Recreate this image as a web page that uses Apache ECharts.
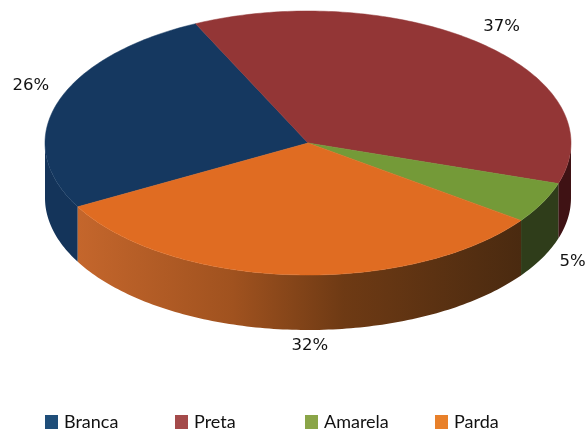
<!DOCTYPE html>
<html>
<head>
<meta charset="utf-8">
<style>
  html, body { margin: 0; padding: 0; background: #fff; }
  #main { width: 587px; height: 429px; }
</style>
<script src="https://cdn.jsdelivr.net/npm/echarts@6/dist/echarts.min.js"></script>
</head>
<body>
<div id="main"></div>
<script>
// valores
const names = ['Branca', 'Preta', 'Amarela', 'Parda']
const values = [26, 37, 5, 32]

// cores
const topColors = ['#153860', '#933636', '#749a38', '#e06c22']
const wallColors = ['#14345a', '#3f1214', '#2f3d1a', '#8a451f']
const legendColors = ['#1f4e79', '#a44a4a', '#8aa548', '#e8802a']

// geometria da pizza
const cx = 308, cy = 143, rx = 263, ry = 132, depth = 55
const startAngle = -118.9

// deslocamento do rotulo em relacao a borda
const labelDx = [-27, 20, 30, 18]
const labelDy = [-17, -17, 59, 71]
const legendLeft = [45, 175, 305, 435]

const point = (deg, dy) => {
  const r = deg * Math.PI / 180
  return [cx + rx * Math.sin(r), cy - ry * Math.cos(r) + dy]
}

const arc = (a0, a1, dy) => {
  const pts = []
  const n = Math.max(2, Math.ceil(a1 - a0))
  for (let i = 0; i <= n; i++) pts.push(point(a0 + (a1 - a0) * i / n, dy))
  return pts
}

const total = values.reduce((a, b) => a + b, 0)

const sliceRange = (index) => {
  let before = 0
  for (let i = 0; i < index; i++) before += values[i]
  const a0 = startAngle + before / total * 360
  return [a0, a0 + values[index] / total * 360]
}

// parte frontal (90 a 270 graus, contando a partir do topo)
const wallRanges = (a0, a1) => {
  const out = []
  for (const shift of [0, 360, -360]) {
    const s = Math.max(a0 + shift, 90), e = Math.min(a1 + shift, 270)
    if (e > s) out.push([s, e])
  }
  return out
}

const wallFill = (index) => {
  if (index !== 3) return wallColors[index]
  return {
    type: 'linear', x: 0, y: 0, x2: 1, y2: 0,
    colorStops: [
      { offset: 0, color: '#c4662c' },
      { offset: 0.35, color: '#a0521f' },
      { offset: 0.6, color: '#6e3a14' },
      { offset: 1, color: '#4a2a10' },
    ],
  }
}

const makeSlice = (index) => (params, api) => {
  const value = api.value(0)
  const [a0, a1] = sliceRange(index)
  const children = []
  wallRanges(a0, a1).forEach(([s, e]) => {
    const wall = arc(s, e, 0).concat(arc(s, e, depth).reverse())
    children.push({
      type: 'polygon',
      shape: { points: wall },
      style: { fill: wallFill(index), stroke: null },
    })
  })
  const top = [[cx, cy]].concat(arc(a0, a1, 0))
  children.push({
    type: 'polygon',
    z2: 5,
    shape: { points: top },
    style: { fill: topColors[index], stroke: topColors[index], lineWidth: 0.5 },
  })
  const mid = point((a0 + a1) / 2, 0)
  children.push({
    type: 'text',
    z2: 10,
    style: {
      text: value + '%',
      x: mid[0] + labelDx[index],
      y: mid[1] + labelDy[index],
      align: 'center',
      verticalAlign: 'middle',
      fill: '#111',
      fontFamily: 'DejaVu Sans',
      fontSize: 16.5,
    },
  })
  return { type: 'group', children: children }
}

let mychart = echarts.init(document.getElementById('main'))

var option = {
  animation: false,
  backgroundColor: '#fff',
  legend: names.map((name, i) => ({
    data: [name],
    left: legendLeft[i],
    top: 413,
    itemWidth: 13,
    itemHeight: 14,
    itemGap: 0,
    padding: 0,
    icon: 'rect',
    selectedMode: false,
    textStyle: { fontFamily: 'Lato', fontSize: 18, color: '#111', padding: [0, 0, 0, 1] },
  })),
  series: names.map((name, i) => ({
    type: 'custom',
    name: name,
    coordinateSystem: 'none',
    silent: true,
    itemStyle: { color: legendColors[i] },
    renderItem: makeSlice(i),
    data: [[values[i]]],
  })),
}

mychart.setOption(option)
</script>
</body>
</html>
